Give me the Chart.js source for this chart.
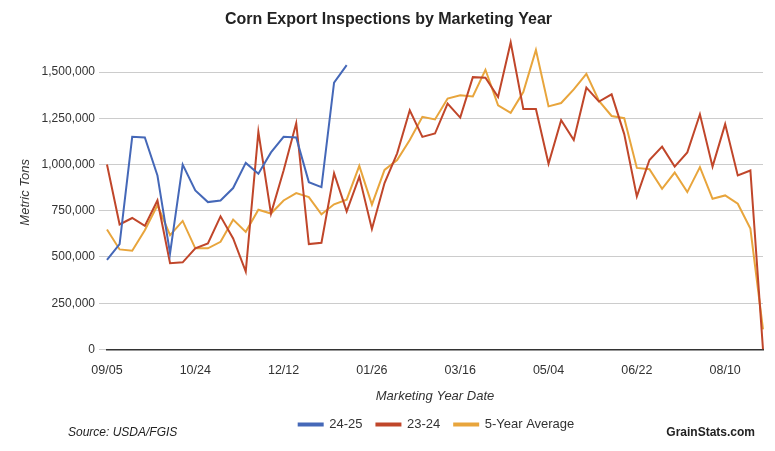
<!DOCTYPE html>
<html>
<head>
<meta charset="utf-8">
<script src="https://cdn.jsdelivr.net/npm/chart.js@4"></script>
<style>
  body { margin: 0; background: #fff; font-family: "Liberation Sans", Arial, sans-serif; }
  #wrap { position: relative; width: 775px; height: 451px; }
  .note { position: absolute; top: 425px; font-size: 12px; color: #222; }
</style>
</head>
<body>
<div id="wrap">
  <canvas id="chart" width="775" height="451"></canvas>
  <div class="note" style="left:68px;font-style:italic;">Source: USDA/FGIS</div>
  <div class="note" style="right:20px;font-weight:bold;">GrainStats.com</div>
</div>
<script>
const tickLabels = ['09/05', '10/24', '12/12', '01/26', '03/16', '05/04', '06/22', '08/10'];
const weeks = Array.from({ length: 53 }, (_, i) => 'Week ' + (i + 1));

const mr2425 = [484000, 570000, 1150000, 1147000, 941000, 520000, 1000000, 860000, 797000, 806000,
  873000, 1009000, 950000, 1066000, 1150000, 1147000, 905000, 878000, 1443000, 1538000];

const mr2324 = [1000000, 676000, 711000, 668000, 806000, 466000, 471000, 547000, 573000, 720000,
  600000, 421000, 1177000, 735000, 968000, 1224000, 570000, 577000, 953000, 747000,
  935000, 652000, 900000, 1061000, 1294000, 1150000, 1168000, 1330000, 1254000, 1473000,
  1470000, 1366000, 1661000, 1301000, 1301000, 1004000, 1240000, 1133000, 1416000, 1341000,
  1380000, 1165000, 828000, 1025000, 1097000, 989000, 1066000, 1272000, 989000, 1219000,
  941000, 968000, 0];

const avg5 = [649000, 541000, 534000, 645000, 780000, 618000, 695000, 547000, 547000, 582000,
  702000, 636000, 756000, 735000, 806000, 846000, 824000, 731000, 785000, 810000,
  993000, 783000, 971000, 1025000, 1133000, 1258000, 1244000, 1357000, 1375000, 1369000,
  1513000, 1321000, 1280000, 1392000, 1620000, 1315000, 1333000, 1407000, 1491000, 1344000,
  1263000, 1251000, 982000, 975000, 869000, 957000, 851000, 986000, 815000, 833000,
  788000, 654000, 108000];

function line(label, data, color) {
  return { label, data, borderColor: color, backgroundColor: color, borderWidth: 2,
    pointRadius: 0, tension: 0, fill: false };
}

// nudge the legend right, like the original
const legendShift = {
  id: 'legendShift',
  afterLayout(chart) {
    chart.legend.left += 48;
    chart.legend.right += 48;
  }
};

new Chart(document.getElementById('chart').getContext('2d'), {
  type: 'line',
  data: {
    labels: weeks,
    datasets: [
      line('24-25', mr2425, '#4568b8'),
      line('23-24', mr2324, '#c0462a'),
      line('5-Year Average', avg5, '#e8a53c')
    ]
  },
  plugins: [legendShift],
  options: {
    responsive: false,
    animation: false,
    layout: { padding: { left: 14, right: 12, top: 0, bottom: 10 } },
    plugins: {
      title: { display: true, text: 'Corn Export Inspections by Marketing Year', color: '#222',
        font: { size: 16, weight: 'bold', family: 'Liberation Sans' }, padding: { top: 10, bottom: 6 } },
      legend: { position: 'bottom',
        labels: { boxWidth: 24, boxHeight: 2, color: '#333', padding: 14,
          font: { size: 13, family: 'Liberation Sans' } } },
      tooltip: { enabled: false }
    },
    scales: {
      x: {
        grid: { display: false },
        border: { color: '#333', width: 1.5 },
        ticks: { autoSkip: false, maxRotation: 0, color: '#333', padding: 6,
          font: { size: 12.5, family: 'Liberation Sans' },
          callback: (v, i) => i % 7 === 0 ? tickLabels[i / 7] : '' },
        title: { display: true, text: 'Marketing Year Date', color: '#333',
          font: { size: 13, style: 'italic', family: 'Liberation Sans' }, padding: { top: 4, bottom: 0 } }
      },
      y: {
        min: 0, max: 1700000,
        afterBuildTicks: axis => {
          axis.ticks = [0, 250000, 500000, 750000, 1000000, 1250000, 1500000].map(v => ({ value: v }));
        },
        grid: { color: '#cccccc' },
        border: { display: false },
        ticks: { color: '#333', padding: 4, font: { size: 12, family: 'Liberation Sans' },
          callback: v => v.toLocaleString('en-US') },
        title: { display: true, text: 'Metric Tons', color: '#333',
          font: { size: 13, style: 'italic', family: 'Liberation Sans' } }
      }
    }
  }
});
</script>
</body>
</html>
